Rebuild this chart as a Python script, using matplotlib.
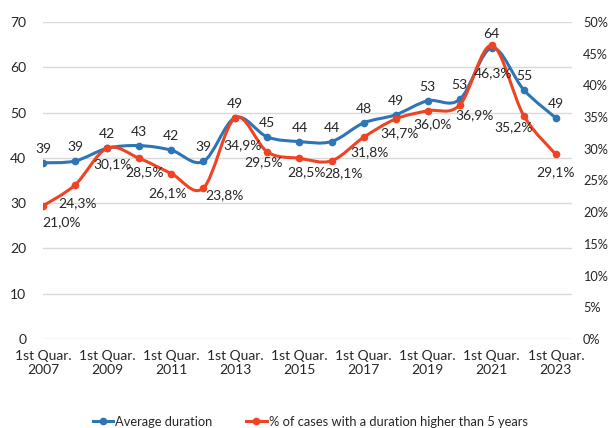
import matplotlib.pyplot as plt
import matplotlib.ticker as ticker
from matplotlib.path import Path
from matplotlib.patches import PathPatch
from matplotlib.lines import Line2D

plt.rcParams["font.family"] = ["Lato", "DejaVu Sans"]

years = list(range(2007, 2024))
avg_duration = [39, 39, 42, 43, 42, 39, 49, 45, 44, 44, 48, 49, 53, 53, 64, 55, 49]
avg_plot = [38.9, 39.3, 42.1, 42.7, 41.7, 39.2, 48.9, 44.6, 43.6, 43.6, 47.7, 49.5, 52.6, 52.9, 64.3, 55.0, 48.8]
pct_over5 = [21.0, 24.3, 30.1, 28.5, 26.1, 23.8, 34.9, 29.5, 28.5, 28.1, 31.8, 34.7, 36.0, 36.9, 46.3, 35.2, 29.1]
tick_years = [2007, 2009, 2011, 2013, 2015, 2017, 2019, 2021, 2023]

BLUE = "#2e75b6"
RED = "#ef4423"

# red label offsets in pixels (dx, dy downwards)
red_offsets = [(19, 16), (3, 18), (5, 16), (5, 14), (-4, 20), (21, 7), (7, 27), (-4, 10),
               (7, 14), (12, 12), (6, 15), (4, 14), (5, 13), (15, 10), (1, 28), (-10, 11), (0, 18)]


def smooth_path(xs, ys):
    # Excel style smoothing: Catmull-Rom as cubic bezier
    verts = [(xs[0], ys[0])]
    codes = [Path.MOVETO]
    n = len(xs)
    for i in range(n - 1):
        x0, y0 = (xs[i - 1], ys[i - 1]) if i > 0 else (xs[i], ys[i])
        x1, y1 = xs[i], ys[i]
        x2, y2 = xs[i + 1], ys[i + 1]
        x3, y3 = (xs[i + 2], ys[i + 2]) if i + 2 < n else (x2, y2)
        c1 = (x1 + (x2 - x0) / 6, y1 + (y2 - y0) / 6)
        c2 = (x2 - (x3 - x1) / 6, y2 - (y3 - y1) / 6)
        verts += [c1, c2, (x2, y2)]
        codes += [Path.CURVE4] * 3
    return Path(verts, codes)


fig = plt.figure(figsize=(6.08, 4.28), dpi=100)
ax = fig.add_axes([0.0707, 0.208, 0.8700, 0.7406])
ax2 = ax.twinx()

x = list(range(len(years)))

ax.add_patch(PathPatch(smooth_path(x, avg_plot), fill=False, edgecolor=BLUE, lw=2.2, zorder=3))
ax.plot(x, avg_plot, "o", color=BLUE, ms=4.5, zorder=4)
for xi, yi, v in zip(x, avg_plot, avg_duration):
    ax.annotate(str(v), (xi, yi), textcoords="offset pixels", xytext=(0, 14),
                ha="center", va="center", fontsize=10, color="#262626")

ax2.add_patch(PathPatch(smooth_path(x, pct_over5), fill=False, edgecolor=RED, lw=2.2, zorder=3))
ax2.plot(x, pct_over5, "o", color=RED, ms=4.5, zorder=4)
for xi, yi, (dx, dy) in zip(x, pct_over5, red_offsets):
    ax2.annotate(f"{yi:.1f}%".replace(".", ","), (xi, yi), textcoords="offset pixels",
                 xytext=(dx, -dy), ha="center", va="center", fontsize=10, color="#262626")

ax.set_xlim(0, 16.5)
ax.set_ylim(0, 70)
ax2.set_ylim(0, 50)
ax.yaxis.set_major_locator(ticker.MultipleLocator(10))
ax2.yaxis.set_major_locator(ticker.MultipleLocator(5))
ax2.yaxis.set_major_formatter(ticker.FuncFormatter(lambda v, p: f"{v:.0f}%"))

ax.set_xticks([years.index(t) for t in tick_years])
ax.set_xticklabels([f"1st Quar.\n{t}" for t in tick_years])

ax.grid(axis="y", color="#d9d9d9", lw=1)
ax.set_axisbelow(True)
for a in (ax, ax2):
    for s in a.spines.values():
        s.set_visible(False)
    a.tick_params(length=0, labelsize=10, colors="#262626")
ax.tick_params(axis="y", pad=12)
ax.tick_params(axis="x", pad=8)
ax2.tick_params(axis="y", pad=8, labelsize=9.2)
for lbl in ax2.get_yticklabels():
    lbl.set_ha("left")

handles = [Line2D([], [], color=BLUE, marker="o", ms=4.5, lw=2.2),
           Line2D([], [], color=RED, marker="o", ms=4.5, lw=2.2)]
fig.legend(handles, ["Average duration", "% of cases with a duration higher than 5 years"],
           loc="center", bbox_to_anchor=(0.51, 0.014), ncol=2, frameon=False,
           fontsize=9.3, handlelength=1.6, handletextpad=0.15, columnspacing=2.6,
           labelcolor="#262626")

fig.savefig("out.png", dpi=100)
